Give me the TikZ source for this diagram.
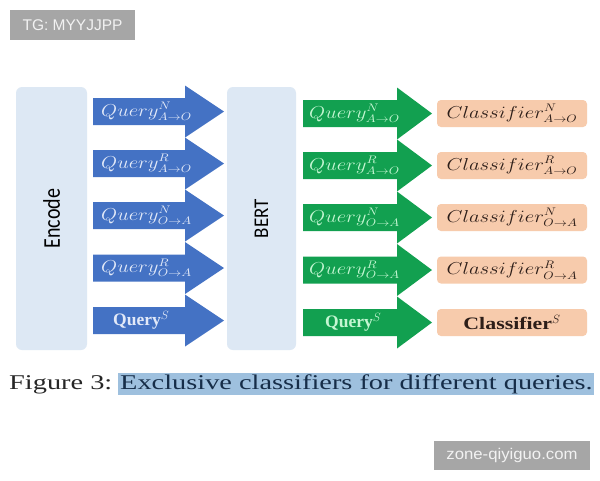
\documentclass[tikz,border=0pt]{standalone}
\usepackage{fontspec}
\usepackage{graphicx}
\newfontfamily\serifface{Liberation Serif}
\newfontfamily\labelface{Carlito}
\newfontfamily\markface{Liberation Sans}

\definecolor{panelblue}{RGB}{221,232,244}
\definecolor{arrowblue}{RGB}{68,114,196}
\definecolor{arrowgreen}{RGB}{18,160,80}
\definecolor{peach}{RGB}{247,203,172}
\definecolor{bluetext}{RGB}{226,233,248}
\definecolor{greentext}{RGB}{196,246,210}
\definecolor{darktext}{RGB}{45,30,25}
\definecolor{tagbg}{RGB}{166,166,166}
\definecolor{hilite}{RGB}{158,192,222}
\definecolor{navy}{RGB}{22,45,72}

% horizontally widened text
\newcommand{\hwide}[1]{\scalebox{1.2}[1]{#1}}
% broad arrow: colour, tail x, head base x, tip x, centre y
\newcommand{\fatarrow}[5]{%
  \fill[#1] (#2,#5-13.5) -- (#3,#5-13.5) -- (#3,#5-26) -- (#4,#5)
    -- (#3,#5+26) -- (#3,#5+13.5) -- (#2,#5+13.5) -- cycle;}

\tikzset{
  panel/.style={fill=panelblue, rounded corners=6pt, minimum width=71pt, minimum height=263pt, inner sep=0pt},
  clsbox/.style={fill=peach, rounded corners=4pt, minimum width=150pt, minimum height=27pt, inner sep=0pt,
    text=darktext, font=\fontsize{16}{19}\selectfont},
  qblue/.style={text=bluetext, inner sep=0pt, font=\fontsize{16}{19}\selectfont},
  qgreen/.style={text=greentext, inner sep=0pt, font=\fontsize{16}{19}\selectfont},
  boldq/.style={font=\serifface\bfseries\fontsize{17.5}{20}\selectfont},
  tag/.style={fill=tagbg, text=white!95!black, inner sep=0pt, font=\markface\fontsize{15.5}{18}\selectfont}
}

\begin{document}
\begin{tikzpicture}[x=1pt,y=-1pt]
\useasboundingbox (0,0) rectangle (600,480);
\fill[white] (0,0) rectangle (600,480);

% corner tags
\node[tag, minimum width=125pt, minimum height=30pt] (tg) at (72.5,25) {TG: MYYJJPP};
\node[tag, minimum width=156pt, minimum height=29pt] (site) at (512,455) {\scalebox{1.08}[1]{zone-qiyiguo.com}};

% side panels
\node[panel] (encode) at (51.5,218.5) {};
\node[rotate=90, inner sep=0pt, font=\labelface\fontsize{20}{24}\selectfont] (encodetext) at (encode.center) {\scalebox{1}[1.2]{Encode}};
\node[panel, minimum width=69pt] (bert) at (261.5,218.5) {};
\node[rotate=90, inner sep=0pt, font=\labelface\fontsize{19}{23}\selectfont] (berttext) at (bert.center) {\scalebox{1}[1.1]{BERT}};

% queries into BERT
\fatarrow{arrowblue}{93}{185}{224}{111.5}
\fatarrow{arrowblue}{93}{185}{224}{163.5}
\fatarrow{arrowblue}{93}{185}{224}{215.5}
\fatarrow{arrowblue}{93}{185}{224}{268}
\fatarrow{arrowblue}{93}{185}{224}{320.5}
\node[qblue, anchor=base west] (qb1) at (101,116) {\hwide{$Query^{N}_{A\to O}$}};
\node[qblue, anchor=base west] (qb2) at (101,168) {\hwide{$Query^{R}_{A\to O}$}};
\node[qblue, anchor=base west] (qb3) at (101,220) {\hwide{$Query^{N}_{O\to A}$}};
\node[qblue, anchor=base west] (qb4) at (101,272.5) {\hwide{$Query^{R}_{O\to A}$}};
\node[qblue, boldq, anchor=base west] (qb5) at (113,325.5) {Query$^{S}$};

% queries out of BERT
\fatarrow{arrowgreen}{303}{397}{432}{113.5}
\fatarrow{arrowgreen}{303}{397}{432}{165.5}
\fatarrow{arrowgreen}{303}{397}{432}{217.5}
\fatarrow{arrowgreen}{303}{397}{432}{270}
\fatarrow{arrowgreen}{303}{397}{432}{322.5}
\node[qgreen, anchor=base west] (qg1) at (309,118) {\hwide{$Query^{N}_{A\to O}$}};
\node[qgreen, anchor=base west] (qg2) at (309,170) {\hwide{$Query^{R}_{A\to O}$}};
\node[qgreen, anchor=base west] (qg3) at (309,222) {\hwide{$Query^{N}_{O\to A}$}};
\node[qgreen, anchor=base west] (qg4) at (309,274.5) {\hwide{$Query^{R}_{O\to A}$}};
\node[qgreen, boldq, anchor=base west] (qg5) at (325,327.5) {Query$^{S}$};

% classifiers
\node[clsbox] (c1) at (512,113.5) {\hwide{$Classifier^{N}_{A\to O}$}};
\node[clsbox] (c2) at (512,165.5) {\hwide{$Classifier^{R}_{A\to O}$}};
\node[clsbox] (c3) at (512,217.5) {\hwide{$Classifier^{N}_{O\to A}$}};
\node[clsbox] (c4) at (512,270) {\hwide{$Classifier^{R}_{O\to A}$}};
\node[clsbox, boldq] (c5) at (512,322.5) {\scalebox{1.25}[1]{Classifier}$^{S}$};

% caption
\fill[hilite] (118,373) rectangle (594,395);
\node[anchor=base west, inner sep=0pt, text=black!85, font=\serifface\fontsize{21}{25}\selectfont] (figlabel) at (9,389) {\scalebox{1.35}[1]{Figure 3:}};
\node[anchor=base west, inner sep=0pt, text=navy, font=\serifface\fontsize{21}{25}\selectfont] (captext) at (120,389) {\scalebox{1.35}[1]{Exclusive classifiers for different queries.}};
\end{tikzpicture}
\end{document}
